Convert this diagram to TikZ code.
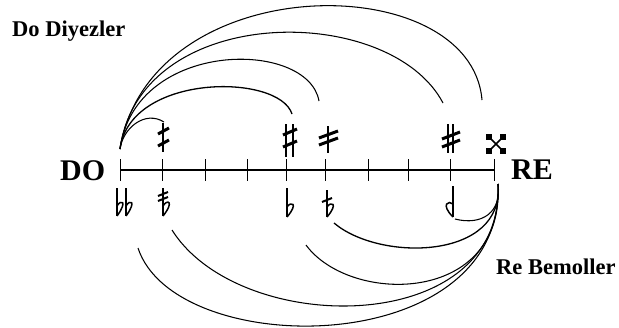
\documentclass[tikz,border=0pt]{standalone}
\usepackage{fontspec}
\setmainfont{Liberation Serif}
\begin{document}
\begin{tikzpicture}[x=1pt,y=-1pt,
  arcline/.style={line width=1.05pt},
  tickline/.style={line width=0.8pt},
  stem/.style={line width=1.4pt},
  sbar/.style={line width=3pt},
  bowl/.style={line width=1.5pt},
  lbl/.style={inner sep=0pt,anchor=base west,font=\bfseries}]
\useasboundingbox (0,0) rectangle (619,327);
% main line
\draw[line width=2.2pt] (120,170) -- (495,170);
\foreach \x in {120,162,205,247,286,325,368,408,450,494}
  \draw[tickline] (\x,159) -- (\x,181);
% labels
\node[lbl,font=\bfseries\fontsize{30}{30}\selectfont] (do) at (60,180) {DO};
\node[lbl,font=\bfseries\fontsize{30}{30}\selectfont] (re) at (511,179) {RE};
\node[lbl,font=\bfseries\fontsize{22.5}{22.5}\selectfont] (dd) at (12,36) {Do Diyezler};
\node[lbl,font=\bfseries\fontsize{22.5}{22.5}\selectfont] (rb) at (496,274) {Re Bemoller};
% named points
\coordinate (s0) at (120,149);
\coordinate (f0) at (498,184);
\coordinate (s1) at (164,122);
\coordinate (s2) at (292,114);
\coordinate (s3) at (319,101);
\coordinate (s4) at (443,103);
\coordinate (s5) at (482,100);
\coordinate (b1) at (455,219);
\coordinate (b2) at (334,223);
\coordinate (b3) at (306,245);
\coordinate (b4) at (172,230);
\coordinate (b5) at (138,248);
% sharps above
% koma diyez at 163
\draw[stem] (163,123) -- (163,152);
\draw[sbar] (158,134) -- (169,128);
\draw[sbar] (158,146) -- (169,140);
% diyez at 286
\draw[stem] (286,124) -- (286,157);
\draw[stem] (293,124) -- (293,157);
\draw[sbar] (283,135) -- (297,129);
\draw[sbar] (283,147) -- (297,141);
% at 328
\draw[stem] (328,126) -- (328,153);
\draw[sbar] (319,138) -- (338,131);
\draw[sbar] (319,145) -- (338,138);
% at 450
\draw[stem] (448,124) -- (448,153);
\draw[stem] (453,124) -- (453,153);
\draw[sbar] (442,139) -- (460,132);
\draw[sbar] (442,147) -- (460,140);
% double sharp
\draw[line width=1.5pt] (489,137) -- (503,151) (503,137) -- (489,151);
\foreach \cx/\cy in {489/137,503/137,489/151,503/151}
  \fill (\cx-2.7,\cy-2.7) rectangle (\cx+2.7,\cy+2.7);
% flats below
% double flat at 120
\draw[stem] (117,188) -- (117,216);
\draw[stem] (126,188) -- (126,216);
\draw[bowl] (117,206) .. controls (121,199) and (128,201) .. (117,216);
\draw[bowl] (126,206) .. controls (130,199) and (137,201) .. (126,216);
% at 163
\draw[stem] (163,188) -- (163,216);
\draw[line width=2pt] (158,196) -- (168,192);
\draw[line width=2pt] (158,201) -- (168,197);
\draw[bowl] (163,206) .. controls (167,199) and (175,201) .. (163,216);
% flat at 287
\draw[stem] (287,188) -- (287,217);
\draw[bowl] (287,207) .. controls (291,201) and (299,203) .. (287,217);
% at 327
\draw[stem] (327,190) -- (327,217);
\draw[line width=2pt] (322,202) -- (332,198);
\draw[bowl] (327,207) .. controls (331,201) and (339,203) .. (327,217);
% koma bemol at 453
\draw[stem] (453,186) -- (453,217);
\draw[bowl] (453,204) .. controls (449,200) and (440,204) .. (453,217);
% upper arcs
\draw[arcline] (s0) .. controls (123,128) and (145,110) .. (s1);
\draw[arcline,line width=1.3pt] (s0) .. controls (130,73) and (279,73) .. (s2);
\draw[arcline] (s0) .. controls (135,39) and (308,39) .. (s3);
\draw[arcline] (s0) .. controls (140,2) and (390,2) .. (s4);
\draw[arcline] (s0) .. controls (150,-33) and (471,-33) .. (s5);
% lower arcs
\draw[arcline] (f0) .. controls (502,212) and (482,226) .. (b1);
\draw[arcline,line width=1.3pt] (f0) .. controls (505,260) and (380,262) .. (b2);
\draw[arcline] (f0) .. controls (505,305) and (350,305) .. (b3);
\draw[arcline] (f0) .. controls (505,338) and (240,338) .. (b4);
\draw[arcline] (f0) .. controls (505,361) and (175,361) .. (b5);
\end{tikzpicture}
\end{document}
